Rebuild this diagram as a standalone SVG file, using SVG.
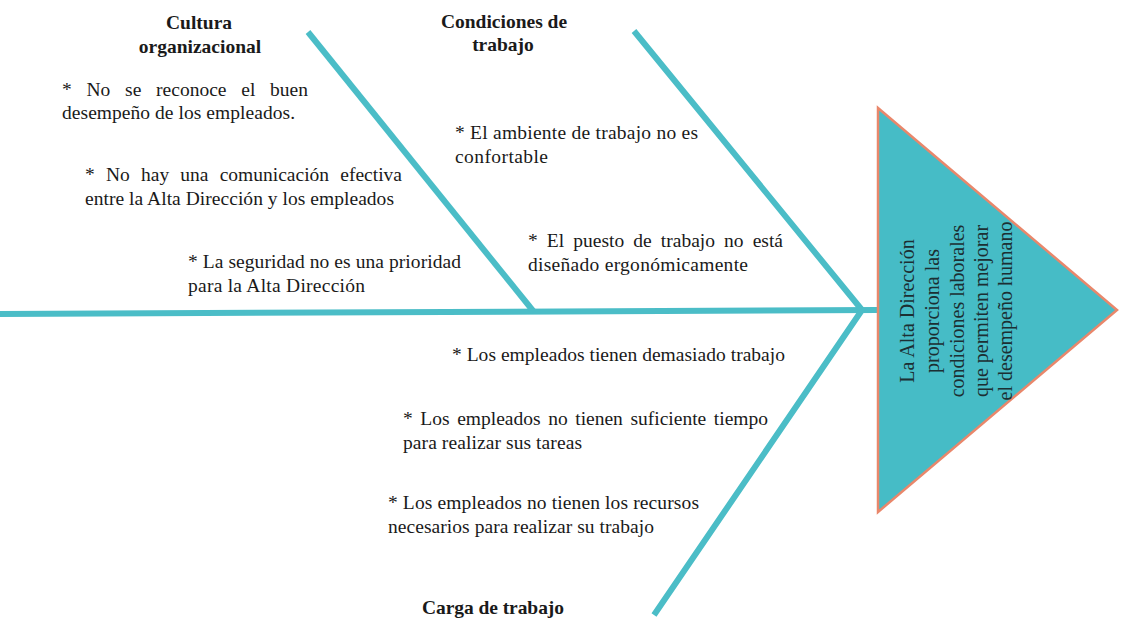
<svg xmlns="http://www.w3.org/2000/svg" width="1122" height="632" viewBox="0 0 1122 632">
<style>
.bone{stroke:#4bbdc7;stroke-width:6;fill:none;stroke-linecap:butt;stroke-linejoin:round}
text{font-family:"Liberation Serif","Times New Roman",serif;fill:#1a1a1a}
.body{font-size:19.5px}
.head{font-size:19.5px;font-weight:bold}
.tri{font-size:20px;fill:#1c2f33}
</style>
<rect width="1122" height="632" fill="#ffffff"/>
<g id="connectors">
<line class="bone" x1="0" y1="314" x2="878" y2="310" stroke-width="6.5"/>
<line class="bone" x1="308" y1="32" x2="534" y2="312"/>
<polyline class="bone" points="634,31 862,310 654,615"/>
</g>
<g id="effect">
<polygon points="878,108 878,512 1117,310" fill="#46bcc6" stroke="#e9876b" stroke-width="2.5"/>
<text class="tri" text-anchor="middle" transform="translate(914,311) rotate(-90)">La Alta Dirección</text>
<text class="tri" text-anchor="middle" transform="translate(939,311) rotate(-90)">proporciona las</text>
<text class="tri" text-anchor="middle" transform="translate(964,311) rotate(-90)">condiciones laborales</text>
<text class="tri" text-anchor="middle" transform="translate(988,311) rotate(-90)">que permiten mejorar</text>
<text class="tri" text-anchor="middle" transform="translate(1012,311) rotate(-90)">el desempeño humano</text>
</g>
<g id="cultura">
<text class="head" x="199" y="29" text-anchor="middle">Cultura</text>
<text class="head" x="200" y="53" text-anchor="middle">organizacional</text>
<text class="body" x="62" y="96" word-spacing="9.8" textLength="246" lengthAdjust="spacing">* No se reconoce el buen</text>
<text class="body" x="62" y="119" textLength="233" lengthAdjust="spacing">desempeño de los empleados.</text>
<text class="body" x="85" y="181" word-spacing="6.3" textLength="317" lengthAdjust="spacing">* No hay una comunicación efectiva</text>
<text class="body" x="85" y="205" textLength="309" lengthAdjust="spacing">entre la Alta Dirección y los empleados</text>
<text class="body" x="188" y="268" textLength="273" lengthAdjust="spacing">* La seguridad no es una prioridad</text>
<text class="body" x="188" y="292" textLength="177" lengthAdjust="spacing">para la Alta Dirección</text>
</g>
<g id="condiciones">
<text class="head" x="504" y="28" text-anchor="middle">Condiciones de</text>
<text class="head" x="503" y="51" text-anchor="middle">trabajo</text>
<text class="body" x="455" y="139" textLength="243" lengthAdjust="spacing">* El ambiente de trabajo no es</text>
<text class="body" x="455" y="163" textLength="93" lengthAdjust="spacing">confortable</text>
<text class="body" x="528" y="247" word-spacing="4.2" textLength="255" lengthAdjust="spacing">* El puesto de trabajo no está</text>
<text class="body" x="528" y="271" textLength="220" lengthAdjust="spacing">diseñado ergonómicamente</text>
</g>
<g id="carga">
<text class="head" x="422" y="614" textLength="142" lengthAdjust="spacing">Carga de trabajo</text>
<text class="body" x="452" y="361" textLength="333" lengthAdjust="spacing">* Los empleados tienen demasiado trabajo</text>
<text class="body" x="403" y="425" word-spacing="2.7" textLength="365" lengthAdjust="spacing">* Los empleados no tienen suficiente tiempo</text>
<text class="body" x="403" y="449" textLength="179" lengthAdjust="spacing">para realizar sus tareas</text>
<text class="body" x="388" y="509" textLength="311" lengthAdjust="spacing">* Los empleados no tienen los recursos</text>
<text class="body" x="388" y="533" textLength="266" lengthAdjust="spacing">necesarios para realizar su trabajo</text>
</g>
</svg>
